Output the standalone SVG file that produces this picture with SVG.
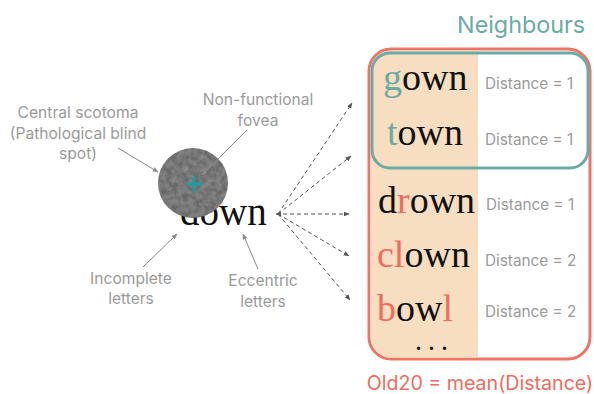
<svg xmlns="http://www.w3.org/2000/svg" width="594" height="394" viewBox="0 0 594 394">
<style>
.lbl{font-family:Inter,"Open Sans","Liberation Sans",sans-serif;font-size:15.6px;fill:#9a9a9a;text-anchor:middle}
.dist{font-family:Inter,"Open Sans","Liberation Sans",sans-serif;font-size:15.3px;fill:#9a9a9a}
.word{font-family:"Liberation Serif","DejaVu Serif",serif;font-size:38px;fill:#111}
.teal{fill:#6aaba6}
.red{fill:#f26b5b}
.ann{stroke:#8a8a8a;stroke-width:1;fill:none}
.dash{stroke:#555;stroke-width:1;stroke-dasharray:4 3;fill:none}
</style>
<defs>
<marker id="ah" viewBox="0 0 10 10" refX="9" refY="5" markerWidth="6" markerHeight="6" orient="auto-start-reverse" markerUnits="userSpaceOnUse">
<path d="M0,1 L10,5 L0,9 z" fill="#555"/>
</marker>
<marker id="ag" viewBox="0 0 10 10" refX="9" refY="5" markerWidth="6" markerHeight="6" orient="auto" markerUnits="userSpaceOnUse">
<path d="M0,1 L10,5 L0,9 z" fill="#8a8a8a"/>
</marker>
<filter id="noise" x="0" y="0" width="1" height="1">
<feTurbulence type="fractalNoise" baseFrequency="0.18" numOctaves="3" seed="5" result="n"/>
<feColorMatrix in="n" type="matrix" values="0 0 0 0 0.55 0 0 0 0 0.55 0 0 0 0 0.55 0 0 0 0.45 -0.1" result="c"/>
<feComposite in="c" in2="SourceGraphic" operator="in" result="t"/>
<feMerge><feMergeNode in="SourceGraphic"/><feMergeNode in="t"/></feMerge>
</filter>
</defs>

<g id="target-word">
<text class="word" x="180" y="225" style="font-size:39px">down</text>
</g>
<g id="scotoma">
<circle cx="193" cy="183" r="35" fill="#666666" filter="url(#noise)"/>
<path d="M186,184 H202 M194,176 V192" stroke="#14a0a6" stroke-width="2.6" fill="none"/>
</g>

<g id="label-central">
<text class="lbl" x="78" y="118">Central scotoma</text>
<text class="lbl" x="78" y="139">(Pathological blind</text>
<text class="lbl" x="78" y="159">spot)</text>
</g>
<g id="label-fovea">
<text class="lbl" x="258" y="105">Non-functional</text>
<text class="lbl" x="258" y="126">fovea</text>
</g>
<g id="label-incomplete">
<text class="lbl" x="131" y="284">Incomplete</text>
<text class="lbl" x="131" y="304">letters</text>
</g>
<g id="label-eccentric">
<text class="lbl" x="263" y="286">Eccentric</text>
<text class="lbl" x="263" y="307">letters</text>
</g>

<g id="neighbours-box">
<rect x="369" y="49" width="221" height="310" rx="22" fill="#ffffff" stroke="#ef7466" stroke-width="3"/>
<path d="M478,50.5 V357.5 H391 A20.5,20.5 0 0 1 370.5,337 V71 A20.5,20.5 0 0 1 391,50.5 Z" fill="#f8dec0"/>
<rect x="372" y="53" width="216" height="115" rx="18" fill="none" stroke="#6aaba6" stroke-width="3"/>
<text x="585" y="33" text-anchor="end" font-family="Inter,'Open Sans','Liberation Sans',sans-serif" font-size="23.3" fill="#6aaba6">Neighbours</text>
</g>

<g id="row-gown">
<text class="word" x="383" y="90"><tspan class="teal">g</tspan>own</text>
<text class="dist" x="485" y="89">Distance = 1</text>
</g>
<g id="row-town">
<text class="word" x="387" y="145"><tspan class="teal">t</tspan>own</text>
<text class="dist" x="485" y="145">Distance = 1</text>
</g>
<g id="row-drown">
<text class="word" x="378" y="213">d<tspan class="red">r</tspan>own</text>
<text class="dist" x="486" y="210">Distance = 1</text>
</g>
<g id="row-clown">
<text class="word" x="377" y="267"><tspan class="red">cl</tspan>own</text>
<text class="dist" x="485" y="266">Distance = 2</text>
</g>
<g id="row-bowl">
<text class="word" x="377" y="321"><tspan class="red">b</tspan>ow<tspan class="red">l</tspan></text>
<text class="dist" x="485" y="317">Distance = 2</text>
</g>
<g id="ellipsis">
<text class="word" x="416" y="350" style="font-size:20px;font-weight:bold;letter-spacing:8px">...</text>
</g>

<g id="old20">
<text x="480" y="390" text-anchor="middle" font-family="Inter,'Open Sans','Liberation Sans',sans-serif" font-size="19.6" fill="#f26b5b">Old20 = mean(Distance)</text>
</g>

<g id="connectors">
<line class="ann" x1="118" y1="148" x2="158" y2="172" marker-end="url(#ag)"/>
<line class="ann" x1="247" y1="130" x2="202" y2="175" marker-end="url(#ag)"/>
<line class="ann" x1="143" y1="267" x2="177" y2="234" marker-end="url(#ag)"/>
<line class="ann" x1="258" y1="269" x2="243" y2="234" marker-end="url(#ag)"/>
<line class="dash" x1="278" y1="214" x2="352" y2="103" marker-end="url(#ah)"/>
<line class="dash" x1="278" y1="214" x2="351" y2="156" marker-end="url(#ah)"/>
<line class="dash" x1="276" y1="214" x2="349" y2="214" marker-start="url(#ah)" marker-end="url(#ah)"/>
<line class="dash" x1="278" y1="214" x2="349" y2="256" marker-end="url(#ah)"/>
<line class="dash" x1="278" y1="214" x2="350" y2="300" marker-end="url(#ah)"/>
</g>
</svg>
